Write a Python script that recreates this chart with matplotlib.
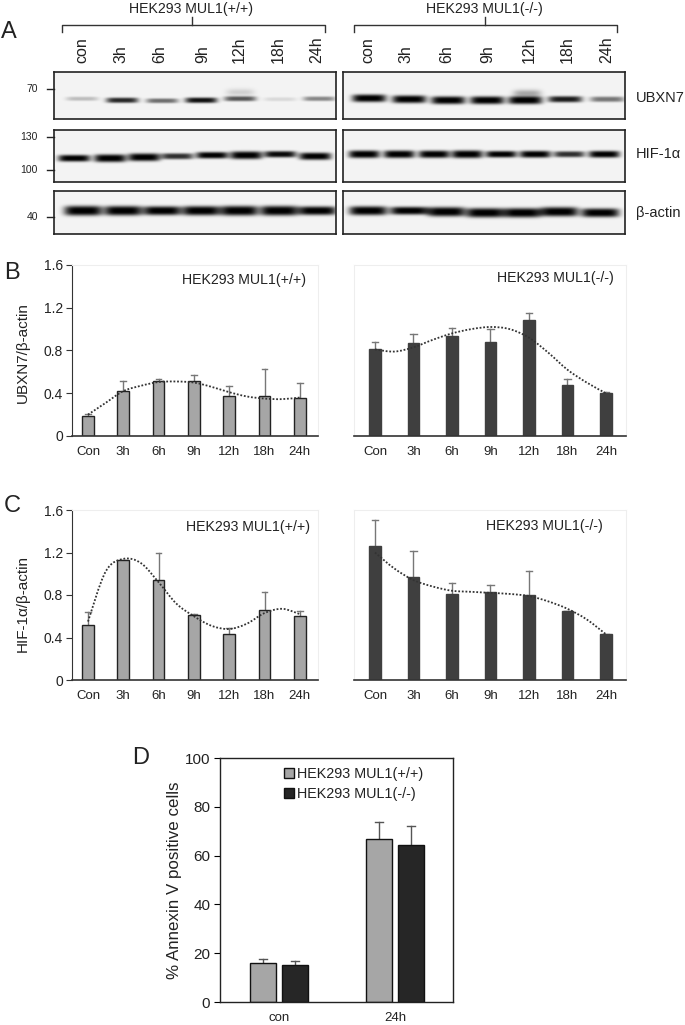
#!/usr/bin/env python3
# -*- coding: utf-8 -*-
import numpy as np
import matplotlib
matplotlib.use("Agg")
import matplotlib.pyplot as plt
from matplotlib.path import Path
from matplotlib.patches import PathPatch

plt.rcParams['font.family'] = ['Liberation Sans', 'DejaVu Sans']

W, H = 685, 1025

lanes = ['con', '3h', '6h', '9h', '12h', '18h', '24h']
hours = ['Con', '3h', '6h', '9h', '12h', '18h', '24h']

# panel A, band strength per lane
ubxn7_wt = [0.14, 0.52, 0.34, 0.58, 0.40, 0.07, 0.28]
ubxn7_ko = [0.95, 0.98, 1.00, 1.00, 1.00, 0.55, 0.32]
hif_wt = [0.70, 1.00, 1.00, 0.50, 0.65, 1.00, 0.60, 0.85]
hif_ko = [0.95, 0.95, 0.90, 1.00, 0.65, 0.75, 0.50, 0.72]
actin_wt = [1.00, 0.95, 0.80, 0.90, 1.00, 1.00, 0.75]
actin_ko = [0.90, 0.65, 1.00, 1.00, 1.00, 1.00, 0.85]

# panel B
ubxn7_wt_mean = [0.19, 0.42, 0.51, 0.51, 0.37, 0.37, 0.36]
ubxn7_wt_top = [0.21, 0.51, 0.53, 0.57, 0.47, 0.63, 0.50]
ubxn7_wt_trend = [0.20, 0.31, 0.42, 0.47, 0.505, 0.51, 0.50, 0.46, 0.41, 0.37, 0.35, 0.345, 0.36]
ubxn7_ko_mean = [0.81, 0.87, 0.94, 0.88, 1.09, 0.48, 0.40]
ubxn7_ko_top = [0.88, 0.95, 1.01, 1.00, 1.15, 0.53, 0.41]
ubxn7_ko_trend = [0.81, 0.79, 0.83, 0.90, 0.96, 1.00, 1.02, 1.00, 0.92, 0.78, 0.62, 0.50, 0.40]

# panel C
hif_wt_mean = [0.52, 1.13, 0.94, 0.61, 0.43, 0.66, 0.60]
hif_wt_top = [0.64, 1.13, 1.20, 0.62, 0.49, 0.83, 0.65]
hif_wt_trend = [0.55, 1.02, 1.14, 1.10, 0.92, 0.72, 0.60, 0.51, 0.48, 0.53, 0.63, 0.67, 0.62]
hif_ko_mean = [1.26, 0.97, 0.81, 0.83, 0.80, 0.65, 0.43]
hif_ko_top = [1.51, 1.21, 0.91, 0.89, 1.03, 0.65, 0.43]
hif_ko_trend = [1.20, 1.05, 0.94, 0.88, 0.84, 0.83, 0.82, 0.81, 0.79, 0.74, 0.67, 0.57, 0.43]

# panel D
annexin_groups = ['con', '24h']
annexin_wt = [16, 67]
annexin_wt_top = [17.8, 73.6]
annexin_ko = [15, 64.3]
annexin_ko_top = [16.8, 72.2]


def axes_px(fig, left, top, right, bottom):
    return fig.add_axes([left / W, 1 - bottom / H, (right - left) / W, (bottom - top) / H])


def blot(fig, box, centers, rows, strength, half_w, sigma, smear=None):
    left, top, right, bottom = box
    ax = axes_px(fig, left, top, right, bottom)
    xs = np.arange(left, right, 0.5)
    ys = np.arange(top, bottom, 0.5)
    xx, yy = np.meshgrid(xs, ys)
    img = np.full(xx.shape, 0.955)
    for cx, cy, s in zip(centers, rows, strength):
        across = np.exp(-np.abs((xx - cx) / half_w) ** 5)
        thick = sigma * (0.55 + 0.45 * s)
        down = np.exp(-np.abs((yy - cy) / thick) ** 3)
        img -= 0.97 * min(1, s * 1.6) * across * down
    if smear:
        # the faint upper band in the 12h lane
        cx, cy, s = smear
        img -= s * np.exp(-np.abs((xx - cx) / 14) ** 4) * np.exp(-((yy - cy) / 3.5) ** 2)
    ax.imshow(np.clip(img, 0, 1), cmap='gray', vmin=0, vmax=1, aspect='auto',
              extent=[left, right, bottom, top], interpolation='bilinear')
    ax.set_xticks([])
    ax.set_yticks([])
    for sp in ax.spines.values():
        sp.set_linewidth(1.2)
        sp.set_color('#222222')


def smooth_line(ax, xs, ys, **kw):
    # same kind of smoothed line a spreadsheet draws through its points
    pts = np.column_stack([xs, ys])
    verts = [pts[0]]
    codes = [Path.MOVETO]
    for i in range(len(pts) - 1):
        p0 = pts[max(i - 1, 0)]
        p1, p2 = pts[i], pts[i + 1]
        p3 = pts[min(i + 2, len(pts) - 1)]
        verts += [p1 + (p2 - p0) / 6, p2 - (p3 - p1) / 6, p2]
        codes += [Path.CURVE4] * 3
    ax.add_patch(PathPatch(Path(verts, codes), fill=False, **kw))


def bars(ax, mean, top, trend, color, xlim, edge, width, ylabel=None):
    x = np.arange(len(mean))
    ax.bar(x, mean, width=width, color=color, edgecolor=edge, linewidth=1.0, zorder=2)
    for xi, m, t in zip(x, mean, top):
        ax.plot([xi, xi], [m, t], color='#777777', lw=1.0, zorder=1)
        ax.plot([xi - 0.08, xi + 0.08], [t, t], color='#777777', lw=1.0, zorder=1)
    smooth_line(ax, np.arange(len(trend)) / 2, trend, edgecolor='#333333', lw=1.3,
                ls=(0, (1, 1)), zorder=3)
    ax.set_xlim(*xlim)
    ax.set_ylim(0, 1.6)
    ax.set_xticks(x)
    ax.set_xticklabels(hours, fontsize=9.5, color='#222222')
    ax.tick_params(axis='x', length=0, pad=7)
    for side in ['top', 'right']:
        ax.spines[side].set_color('#eeeeee')
        ax.spines[side].set_linewidth(0.8)
    ax.spines['bottom'].set_linewidth(1.2)
    ax.spines['bottom'].set_color('#333333')
    if ylabel:
        ax.set_yticks([0, 0.4, 0.8, 1.2, 1.6])
        ax.set_yticklabels(['0', '0.4', '0.8', '1.2', '1.6'], fontsize=10, color='#222222')
        ax.tick_params(axis='y', length=4, width=0.8, pad=2, color='#333333')
        ax.spines['left'].set_color('#333333')
    else:
        ax.set_yticks([])
        ax.spines['left'].set_color('#eeeeee')
        ax.spines['left'].set_linewidth(0.8)


fig = plt.figure(figsize=(W / 100, H / 100), dpi=100)

# overlay in pixel units for labels and brackets
ov = fig.add_axes([0, 0, 1, 1], zorder=10)
ov.set_xlim(0, W)
ov.set_ylim(H, 0)
ov.axis('off')
ov.patch.set_alpha(0)

# panel A blots
lx, rx = (54, 336), (343, 625)
row1, row2, row3 = (72, 119), (130, 182), (191, 234)

blot(fig, (lx[0], row1[0], lx[1], row1[1]),
     [82, 122, 162, 201, 240, 280, 319], [98.5, 100, 100.5, 100, 98.5, 99, 98.5], ubxn7_wt, 16, 3.4,
     smear=(240, 92, 0.14))
blot(fig, (rx[0], row1[0], rx[1], row1[1]),
     [369, 409, 448, 487, 525, 565, 607], [98, 99, 100, 100, 100, 99, 99], ubxn7_ko, 17, 3.9,
     smear=(527, 93, 0.3))
blot(fig, (lx[0], row2[0], lx[1], row2[1]),
     [74, 110, 144, 177, 212, 246, 280, 315], [158, 158, 157, 156, 155, 155, 154, 156], hif_wt, 16, 3.9)
blot(fig, (rx[0], row2[0], rx[1], row2[1]),
     [364, 399, 434, 467, 501, 535, 569, 604], [154, 154, 154, 154, 154, 154, 154, 154], hif_ko, 15.5, 3.9)
blot(fig, (lx[0], row3[0], lx[1], row3[1]),
     [83, 123, 162, 201, 239, 279, 317], [211, 211, 211, 211, 211, 211, 211], actin_wt, 19, 4.8)
blot(fig, (rx[0], row3[0], rx[1], row3[1]),
     [368, 409, 446, 485, 522, 559, 600], [211, 211, 212, 213, 213, 212, 213], actin_ko, 19, 4.6)

# brackets over the lanes
for x0, x1, xm, title, tx in [(62, 325, 192, 'HEK293 MUL1(+/+)', 191),
                              (354, 617, 485, 'HEK293 MUL1(-/-)', 484)]:
    ov.plot([x0, x0, x1, x1], [32, 24.5, 24.5, 32], color='#333333', lw=1)
    ov.plot([xm, xm], [17, 24.5], color='#333333', lw=1)
    ov.text(tx, 9, title, fontsize=10.2, ha='center', va='center', color='#222222')

for lab, x in zip(lanes, [82, 121, 160, 203, 239, 278, 317]):
    ov.text(x, 63, lab, rotation=90, fontsize=11.5, ha='center', va='bottom', color='#222222')
for lab, x in zip(lanes, [368, 406, 447, 488, 529, 567, 607]):
    ov.text(x, 63, lab, rotation=90, fontsize=11.5, ha='center', va='bottom', color='#222222')

for lab, y in [('70', 89), ('130', 137), ('100', 170), ('40', 217)]:
    ov.plot([47, 54], [y, y], color='#222222', lw=1)
    ov.text(38, y, lab, fontsize=7.5, ha='right', va='center', color='#222222')

for lab, y in [('UBXN7', 98), ('HIF-1α', 154), ('β-actin', 213)]:
    ov.text(636, y, lab, fontsize=10.5, ha='left', va='center', color='#222222')

for lab, x, y in [('A', 9, 32), ('B', 12, 273), ('C', 12, 506), ('D', 141, 758)]:
    ov.text(x, y, lab, fontsize=17, ha='center', va='center', color='#222222')

# panels B and C
left_lim = (-0.467, 6.515)
right_lim = (-0.545, 6.52)
light, dark = '#a6a6a6', '#3f3f3f'

ax = axes_px(fig, 71.5, 265, 318, 436)
bars(ax, ubxn7_wt_mean, ubxn7_wt_top, ubxn7_wt_trend, light, left_lim, '#222222', 0.33, ylabel=True)
ax = axes_px(fig, 354, 265, 626, 436)
bars(ax, ubxn7_ko_mean, ubxn7_ko_top, ubxn7_ko_trend, dark, right_lim, dark, 0.3)
ax = axes_px(fig, 71.5, 510, 318, 680)
bars(ax, hif_wt_mean, hif_wt_top, hif_wt_trend, light, left_lim, '#222222', 0.33, ylabel=True)
ax = axes_px(fig, 354, 510, 626, 680)
bars(ax, hif_ko_mean, hif_ko_top, hif_ko_trend, dark, right_lim, dark, 0.3)

for title, x, y in [('HEK293 MUL1(+/+)', 244, 280), ('HEK293 MUL1(-/-)', 555, 278),
                    ('HEK293 MUL1(+/+)', 248, 527), ('HEK293 MUL1(-/-)', 544, 526)]:
    ov.text(x, y, title, fontsize=10.2, ha='center', va='center', color='#222222')
ov.text(23, 353, 'UBXN7/β-actin', rotation=90, fontsize=11, ha='center', va='center', color='#222222')
ov.text(23, 603, 'HIF-1α/β-actin', rotation=90, fontsize=11, ha='center', va='center', color='#222222')

# panel D
ax = axes_px(fig, 220, 758, 453, 1002)
x = np.arange(2)
w = 0.223
ax.bar(x - 0.136, annexin_wt, width=w, color='#a6a6a6', edgecolor='#111111', linewidth=1.0, zorder=2,
       label='HEK293 MUL1(+/+)')
ax.bar(x + 0.136, annexin_ko, width=w, color='#262626', edgecolor='#111111', linewidth=1.0, zorder=2,
       label='HEK293 MUL1(-/-)')
for off, mean, top in [(-0.136, annexin_wt, annexin_wt_top), (0.136, annexin_ko, annexin_ko_top)]:
    for xi, m, t in zip(x + off, mean, top):
        ax.plot([xi, xi], [m, t], color='#555555', lw=1.0, zorder=1)
        ax.plot([xi - 0.035, xi + 0.035], [t, t], color='#555555', lw=1.0, zorder=1)
ax.set_xlim(-0.509, 1.5)
ax.set_ylim(0, 100)
ax.set_xticks(x)
ax.set_xticklabels(annexin_groups, fontsize=9.5, color='#222222')
ax.tick_params(axis='x', length=0, pad=7)
ax.set_yticks([0, 20, 40, 60, 80, 100])
ax.tick_params(axis='y', labelsize=11, length=4, width=0.8, pad=3, labelcolor='#222222')
for sp in ax.spines.values():
    sp.set_linewidth(1.0)
    sp.set_color('#222222')
ax.legend(loc='upper left', bbox_to_anchor=(0.225, 1.012), frameon=False, fontsize=10.4,
          handlelength=0.7, handleheight=0.7, handletextpad=0.2, labelspacing=0.42, borderpad=0.3,
          labelcolor='#222222')
ov.text(175, 880, '% Annexin V positive cells', rotation=90, fontsize=12.2, ha='center', va='center',
        color='#222222')

fig.savefig('out.png', dpi=100)
